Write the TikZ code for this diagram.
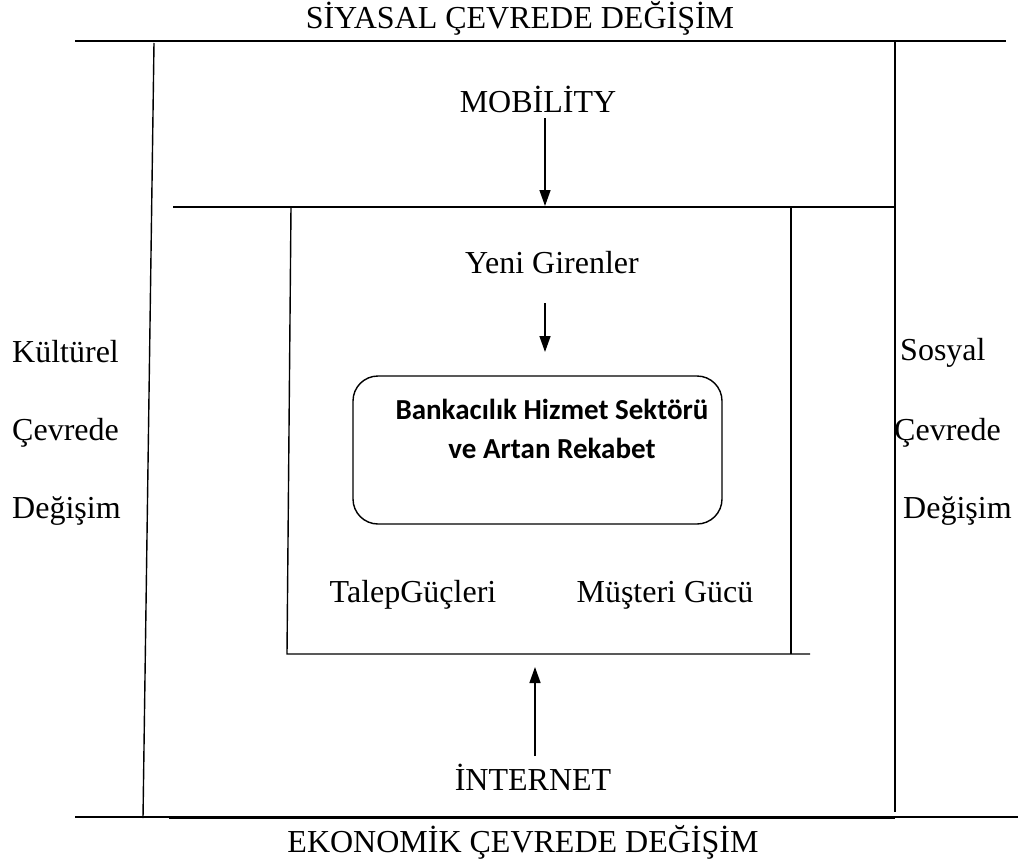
\documentclass[tikz,border=0pt]{standalone}
\usepackage{fontspec}
\setmainfont{Liberation Serif}
\newfontfamily\boxfont{Carlito}
\usetikzlibrary{arrows.meta,positioning}

\begin{document}
\begin{tikzpicture}[x=1pt, y=-1pt,
    rule/.style={line width=1.4pt},
    arrow/.style={-{Triangle[length=16pt, width=11pt]}, line width=1.4pt},
    label/.style={font=\fontsize{32}{36}\selectfont, inner sep=0pt, anchor=base},
    side/.style={label, anchor=base west},
    core/.style={draw, line width=1.4pt, rounded corners=25pt, minimum width=369pt, minimum height=148pt}]
    \useasboundingbox (0,0) rectangle (1020,859);

    % Outer frame
    \draw[rule] (75,41) -- (1006,41);
    \draw[rule] (154,43) -- (143,818);
    \draw[rule] (895,41) -- (895,812);
    \draw[rule] (75,817) -- (1018,817);
    \draw[line width=2.4pt] (169,818) -- (895,818);

    % Inner frame
    \draw[rule] (173,207) -- (895,207);
    \draw[rule] (291,207) -- (287,654) -- (810,654);
    \draw[rule] (791,207) -- (791,654);

    % Texts
    \node[label] (siyasal) at (520,29) {SİYASAL ÇEVREDE DEĞİŞİM};
    \node[label] (ekonomik) at (523,852) {EKONOMİK ÇEVREDE DEĞİŞİM};
    \node[label] (mobility) at (538,112) {MOBİLİTY};
    \node[label] (yeni) at (552,273) {Yeni Girenler};
    \node[label] (talep) at (413,602) {TalepGüçleri};
    \node[label] (musteri) at (665,602) {Müşteri Gücü};
    \node[label] (internet) at (533,790) {İNTERNET};

    % Side texts
    \node[side] (kultur) at (12,362) {Kültürel};
    \node[side] (kcevre) at (12,440) {Çevrede};
    \node[side] (kdegis) at (12,518) {Değişim};
    \node[side] (sosyal) at (900,360) {Sosyal};
    \node[side] (scevre) at (894,440) {Çevrede};
    \node[side] (sdegis) at (903,518) {Değişim};

    % Central box
    \node[core] (sektor) at (537.5,450) {};
    \node[font=\boxfont\bfseries\fontsize{29}{39}\selectfont, align=center, anchor=base] (sektortext) at (552,458) {Bankacılık Hizmet Sektörü\\ve Artan Rekabet};

    % Arrows
    \coordinate (mobend) at (545,206);
    \coordinate (yeniend) at (545,352);
    \coordinate (netend) at (535,667);
    \draw[arrow] (mobend |- 0,118) -- (mobend);
    \draw[arrow] (yeniend |- 0,303) -- (yeniend);
    \draw[arrow] (netend |- 0,756) -- (netend);
\end{tikzpicture}
\end{document}
